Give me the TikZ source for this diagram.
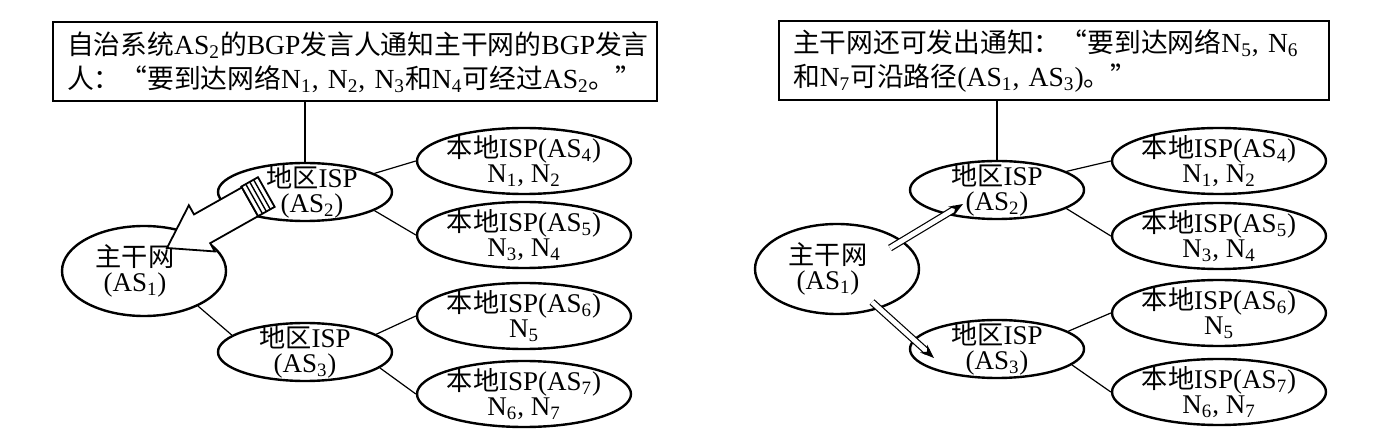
\documentclass[tikz,border=0pt]{standalone}
\usepackage{fontspec}
\setmainfont{Liberation Serif}
\newfontfamily\cjk[Scale=0.97]{Noto Sans CJK SC}
\usetikzlibrary{arrows.meta,positioning,calc,shapes.geometric}
\newcommand{\zh}[1]{{\cjk #1}}
\newcommand{\subs}[1]{\textsubscript{#1}}
\tikzset{
  notebox/.style={draw, line width=1pt, rectangle, align=left, inner ysep=0pt,
                  minimum height=39.5pt, font=\fontsize{13.8}{17}\selectfont},
  ispnode/.style={draw, ellipse, line width=1.2pt, fill=white, inner sep=-3pt,
                  align=center, minimum width=107pt, minimum height=33pt,
                  font=\fontsize{13.5}{12.3}\selectfont},
  regnode/.style={ispnode, minimum width=87pt, minimum height=29pt},
  bbnode/.style={ispnode, minimum width=82pt, minimum height=45pt},
  link/.style={line width=0.6pt},
  darr/.style={double, double distance=2.4pt, line width=0.6pt, -{Stealth[length=7pt]}}}

\begin{document}
\begin{tikzpicture}[x=0.5pt, y=-0.5pt]
  \useasboundingbox (0,0) rectangle (1396,448);
  % left half: AS2 announces N1 ... N4
  \node[notebox, text width=288pt, inner xsep=7pt] (lnote) at (355,62)
    {\zh{自治系统}AS\subs{2}\zh{的}BGP\zh{发言人通知主干网的}BGP\zh{发言}\\
     \zh{人：“要到达网络}N\subs{1}, N\subs{2}, N\subs{3}\zh{和}N\subs{4}\zh{可经过}AS\subs{2}\zh{。”}};
  \node[regnode] (las2) at (305,192) {\hspace*{7pt}\zh{地区}ISP\\\hspace*{7pt}(AS\subs{2})};
  \node[bbnode] (las1) at (144,271) {\zh{主干网}\hspace*{9pt}\\(AS\subs{1})\hspace*{9pt}};
  \node[regnode] (las3) at (305,352) {\zh{地区}ISP\\(AS\subs{3})};
  \node[ispnode] (las4) at (524,161) {\zh{本地}ISP(AS\subs{4})\\N\subs{1}, N\subs{2}};
  \node[ispnode] (las5) at (524,235) {\zh{本地}ISP(AS\subs{5})\\N\subs{3}, N\subs{4}};
  \node[ispnode] (las6) at (524,316) {\zh{本地}ISP(AS\subs{6})\\N\subs{5}};
  \node[ispnode] (las7) at (524,394) {\zh{本地}ISP(AS\subs{7})\\N\subs{6}, N\subs{7}};
  \draw[link] (las2.north) -- (las2.north |- lnote.south);
  \draw[link] (las2.15) -- (las4.west);
  \draw[link] (las2.-15) -- (las5.west);
  \draw[link] (las1.-33) -- (las3.167);
  \draw[link] (las3.14) -- (las6.west);
  \draw[link] (las3.-12) -- (las7.west);
  % hollow arrow with striped tail
  \begin{scope}[shift={(167,248)}, rotate=29.4]
    \draw[line width=0.9pt, fill=white] (0,0) -- (40,-26.5) -- (40,-16) -- (95,-16)
      -- (95,17) -- (40,17) -- (40,26.5) -- cycle;
    \draw[line width=0.9pt, fill=white] (95,-17) rectangle (114,17);
    \foreach \s in {100,104.5,109} \draw[line width=0.7pt] (\s,-17) -- (\s,17);
  \end{scope}

  % right half: backbone announces N5, N6, N7
  \node[notebox, text width=261pt, inner xsep=7pt] (rnote) at (1054,61)
    {\zh{主干网还可发出通知：“要到达网络}N\subs{5}, N\subs{6}\\
     \zh{和}N\subs{7}\zh{可沿路径}(AS\subs{1}, AS\subs{3})\zh{。”}};
  \node[regnode] (ras2) at (997,190) {\zh{地区}ISP\\(AS\subs{2})};
  \node[bbnode] (ras1) at (837,269) {\zh{主干网}\hspace*{9pt}\\(AS\subs{1})\hspace*{9pt}};
  \node[regnode] (ras3) at (997,349) {\zh{地区}ISP\\(AS\subs{3})};
  \node[ispnode] (ras4) at (1219,161) {\zh{本地}ISP(AS\subs{4})\\N\subs{1}, N\subs{2}};
  \node[ispnode] (ras5) at (1219,236) {\zh{本地}ISP(AS\subs{5})\\N\subs{3}, N\subs{4}};
  \node[ispnode] (ras6) at (1219,313) {\zh{本地}ISP(AS\subs{6})\\N\subs{5}};
  \node[ispnode] (ras7) at (1219,392) {\zh{本地}ISP(AS\subs{7})\\N\subs{6}, N\subs{7}};
  \draw[link] (ras2.north) -- (ras2.north |- rnote.south);
  \draw[link] (ras2.15) -- (ras4.west);
  \draw[link] (ras2.-15) -- (ras5.west);
  \draw[link] (ras3.14) -- (ras6.west);
  \draw[link] (ras3.-12) -- (ras7.west);
  \coordinate (ra1) at ($(ras1)+(53,-21)$);
  \coordinate (ra2) at ($(ras2)+(-34,14)$);
  \coordinate (rb1) at ($(ras1)+(35,33)$);
  \coordinate (rb2) at ($(ras3)+(-63,9)$);
  \draw[darr] (ra1) -- (ra2);
  \draw[darr] (rb1) -- (rb2);
\end{tikzpicture}
\end{document}
